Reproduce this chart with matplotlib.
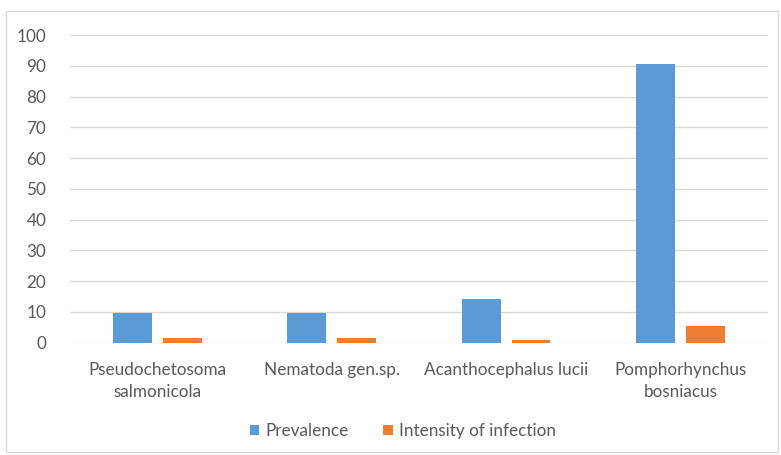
import matplotlib
matplotlib.use('Agg')
import matplotlib.pyplot as plt
import numpy as np
from matplotlib.patches import Rectangle

species = ['Pseudochetosoma\nsalmonicola', 'Nematoda gen.sp.', 'Acanthocephalus lucii', 'Pomphorhynchus\nbosniacus']
prevalence = [9.5, 9.5, 14.2, 90.5]
intensity = [1.6, 1.5, 1.0, 5.4]
yticks = [0, 10, 20, 30, 40, 50, 60, 70, 80, 90, 100]

plt.rcParams['font.family'] = ['Lato', 'DejaVu Sans']
text_col = '#595959'
grid_col = '#D9D9D9'
fs = 12.3

fig = plt.figure(figsize=(7.81, 4.55), dpi=100)
ax = fig.add_axes([0.0896, 0.2468, 0.8934, 0.6762])

x = np.arange(len(species))
w = 0.223
gap = 0.063
ax.bar(x - (w + gap) / 2, prevalence, w, color='#5B9BD5', label='Prevalence', zorder=3)
ax.bar(x + (w + gap) / 2, intensity, w, color='#ED7D31', label='Intensity of infection', zorder=3)

ax.set_xlim(-0.5, len(species) - 0.5)
ax.set_ylim(0, 100)
ax.set_yticks(yticks)
ax.set_xticks(x)
ax.set_xticklabels(species, fontsize=fs, color=text_col, linespacing=1.45)
ax.tick_params(axis='y', labelsize=fs, labelcolor=text_col, length=0, pad=17)
ax.tick_params(axis='x', length=0, pad=14)
ax.yaxis.grid(True, color=grid_col, linewidth=1)
ax.set_axisbelow(True)
for s in ax.spines.values():
    s.set_visible(False)

leg = fig.legend(loc='center', bbox_to_anchor=(0.516, 0.053), ncol=2, frameon=False,
                 fontsize=fs, handlelength=0.55, handleheight=0.55, columnspacing=2.0,
                 handletextpad=0.4)
for t in leg.get_texts():
    t.set_color(text_col)

# chart border
fig.patches.append(Rectangle((6 / 781, 3 / 455), 772 / 781, 441 / 455, transform=fig.transFigure,
                             fill=False, edgecolor=grid_col, linewidth=1))

fig.savefig('out.png', dpi=100)
